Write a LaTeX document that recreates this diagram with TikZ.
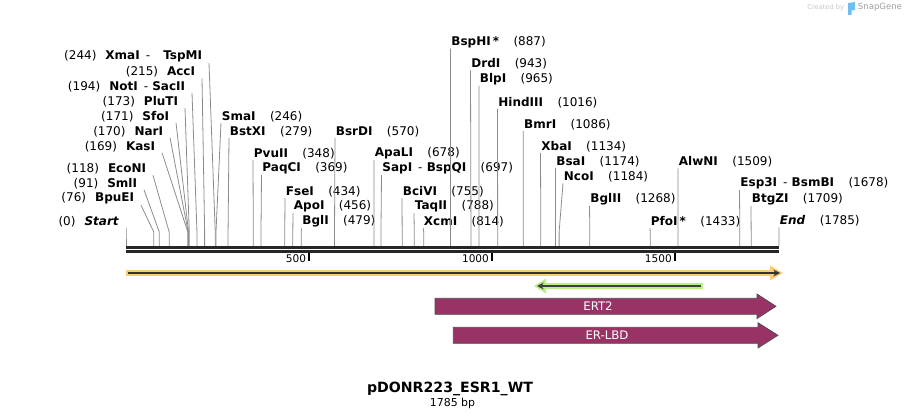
\documentclass[tikz,border=0pt]{standalone}
\usepackage{fontspec}
\setmainfont{DejaVu Sans}
\usepackage{xcolor}
\usetikzlibrary{calc, arrows.meta}

\definecolor{featmaroon}{RGB}{153,51,102}
\definecolor{gloworange}{RGB}{250,204,118}
\definecolor{glowgreen}{RGB}{184,240,134}
\definecolor{cutgray}{RGB}{140,140,140}
\definecolor{logoblue}{RGB}{110,190,240}

\newcommand{\pair}[3][0.35em]{#2\hspace{0.5em}\textmd{-}\hspace{#1}#3}

\begin{document}
\begin{tikzpicture}[x=0.75pt, y=-0.75pt,
		lbl/.style={inner sep=0.5pt, font=\fontsize{9}{10}\selectfont},
		cutline/.style={cutgray, line width=0.6pt}]
		\def\ox{126}
		\def\bpx{0.3658}
		\def\yb{232}
		\def\yc{246}
		
		\useasboundingbox (0,0) rectangle (906,420);
		
		\foreach \n/\bp/\x/\y/\name in {1/0/120/221.5/\textit{Start}, 2/76/135/198.5/BpuEI, 3/91/138/183.5/SmlI,
			4/118/147/169/EcoNI, 5/169/156/146.5/KasI, 6/170/164/131.5/NarI, 7/171/170/116.5/SfoI,
			8/173/179/101.5/PluTI, 9/194/186/86.5/\pair{NotI}{SacII}, 10/215/196/72/AccI,
			11/244/203/56.5/\pair[1.1em]{XmaI}{TspMI}}{
			\node[lbl, anchor=east] (l\n) at (\x,\y) {(\bp)\hspace{0.75em}\textbf{\name}};
			\draw[cutline] ([xshift=4.5pt]l\n.south east) -- ({\ox+\bp*\bpx},\yb) -- ({\ox+\bp*\bpx},\yc);
		}
		
		\foreach \n/\bp/\x/\y/\name in {1/246/221/116.5/SmaI, 2/279/229/131.5/BstXI, 3/348/253/153.5/PvuII,
			4/369/261.5/168.5/PaqCI, 5/434/285/191.5/FseI, 6/456/293/206.5/ApoI, 7/479/301.5/221.5/BglI,
			8/570/335/131.5/BsrDI, 9/678/374/153.5/ApaLI, 10/697/381.5/168.5/\pair{SapI}{BspQI},
			11/755/402/191.5/BciVI, 12/788/414/206.5/TaqII, 13/814/423/221.5/XcmI,
			14/887/450.5/42/BspHI\,*, 15/943/470.5/64/DrdI, 16/965/479/79/BlpI, 17/1016/497.5/102.5/HindIII,
			18/1086/523.3/124.5/BmrI, 19/1134/540.5/146.5/XbaI, 20/1174/555.5/161.5/BsaI,
			21/1184/563/177/NcoI, 22/1268/589.5/199/BglII, 23/1433/650/221.5/PfoI\,*,
			24/1509/678/162/AlwNI, 25/1678/739.5/183.5/\pair{Esp3I}{BsmBI}, 26/1709/751/199/BtgZI,
			27/1785/779/221/\textit{End}}{
			\node[lbl, anchor=west] (r\n) at (\x,\y) {\textbf{\name}\hspace{1.2em}(\bp)};
			\draw[cutline] (r\n.south west) -- ({\ox+\bp*\bpx},\yb) -- ({\ox+\bp*\bpx},\yc);
		}
		
		\draw[line width=2.25pt, black!85] (\ox,247.5) -- (779,247.5);
		\draw[line width=2.25pt, black!85] (\ox,251.5) -- (779,251.5);
		
		\foreach \t in {500,1000,1500}{
			\draw[line width=1.5pt] ({\ox+\t*\bpx},253) -- ++(0,8);
			\node[lbl, anchor=east, font=\fontsize{7.9}{9}\selectfont] (t\t) at ({\ox+\t*\bpx-2},259) {\t};
		}
		
		\draw[line width=4.5pt, gloworange] (\ox,273) -- (772,273);
		\fill[gloworange] (770,265.5) -- (783,273) -- (770,280.5) -- cycle;
		\draw[line width=1.5pt, black!80, -{Stealth[length=5pt,width=5pt]}] (128,273) -- (780,273);
		
		\draw[line width=4.5pt, glowgreen] (541,286) -- (703,286);
		\fill[glowgreen] (546,278.5) -- (534,286) -- (546,293.5) -- cycle;
		\draw[line width=1.5pt, black!75, -{Stealth[length=5pt,width=5pt]}] (701,286) -- (537,286);
		
		\begin{scope}[fill=featmaroon, draw=black!70, line width=0.5pt]
		\filldraw (435,298.3) -- (757,298.3) -- (757,294) -- (776,306.3) -- (757,318.6) -- (757,314.3) -- (435,314.3) -- cycle;
		\filldraw (453.3,327.3) -- (758,327.3) -- (758,322.7) -- (778,335.3) -- (758,348) -- (758,343.3) -- (453.3,343.3) -- cycle;
		\end{scope}
		\node[lbl, white, font=\fontsize{8.8}{10}\selectfont] (ert) at (598,306.3) {ERT2};
		\node[lbl, white, font=\fontsize{8.8}{10}\selectfont] (lbd) at (607,335.3) {ER-LBD};
		
		\node[font=\fontsize{10.6}{12}\selectfont\bfseries] (title) at (450,388.5) {pDONR223\_ESR1\_WT};
		\node[lbl, font=\fontsize{8.2}{10}\selectfont] (size) at (452.5,403.5) {1785 bp};
		
		\node[lbl, anchor=east, black!22, font=\fontsize{5}{6}\selectfont] (made) at (845,7.5) {Created by};
		\fill[logoblue] (848,3) -- (855,2) -- (855,10) -- (851.5,10.5) -- (851.5,15) -- (848,15) -- cycle;
		\node[lbl, anchor=west, black!38, font=\fontsize{6.4}{8}\selectfont] (snap) at (857,7.5) {SnapGene};
	\end{tikzpicture}
\end{document}
